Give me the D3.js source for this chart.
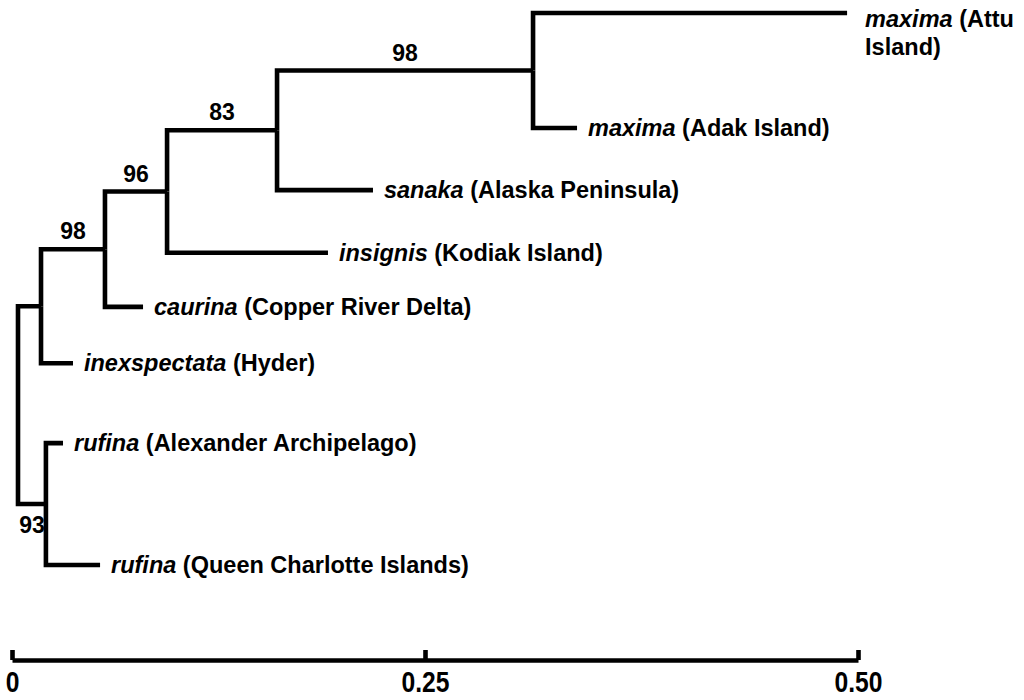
<!DOCTYPE html>
<html>
<head>
<meta charset="utf-8">
<script src="https://cdn.jsdelivr.net/npm/d3@7/dist/d3.min.js"></script>
<style>
  html, body { margin: 0; padding: 0; background: #ffffff; }
  svg { display: block; }
  text { font-family: "Liberation Sans", Arial, Helvetica, sans-serif; font-weight: bold; fill: #000; }
</style>
</head>
<body>
<svg id="chart" width="1024" height="700"></svg>
<script>
// ---- data ----
const nodeIds = ["root", "n98a", "n96", "n83", "n98b", "nMax", "nRuf",
                 "attu", "adak", "sanaka", "insignis", "caurina", "inexspectata", "rufinaA", "rufinaQ"];
const parentIds = ["", "root", "n98a", "n96", "n83", "n98b", "root",
                   "nMax", "nMax", "n98b", "n83", "n96", "n98a", "nRuf", "nRuf"];
const branchLengths = [0, 0.0136, 0.0378, 0.0367, 0.0650, 0.1513, 0.0165,
                       0.1856, 0.0260, 0.0567, 0.0951, 0.0225, 0.0189, 0.0101, 0.0320];

const leafIds = ["attu", "adak", "sanaka", "insignis", "caurina", "inexspectata", "rufinaA", "rufinaQ"];
const leafTaxa = ["maxima", "maxima", "sanaka", "insignis", "caurina", "inexspectata", "rufina", "rufina"];
const leafLocalities = ["(Attu Island)", "(Adak Island)", "(Alaska Peninsula)", "(Kodiak Island)",
                        "(Copper River Delta)", "(Hyder)", "(Alexander Archipelago)", "(Queen Charlotte Islands)"];
const leafRows = [0, 2.0, 3.08, 4.17, 5.11, 6.09, 7.48, 9.6];

const supportNodes = ["n96", "n83", "n98b", "nMax", "nRuf"];
const supportValues = [98, 96, 83, 98, 93];
const supportSide = ["above", "above", "above", "above", "below"];

const scaleTicks = [0, 0.25, 0.5];
const scaleTickLabels = ["0", "0.25", "0.50"];

// ---- build tree ----
const table = nodeIds.map((id, i) => ({ id, parent: parentIds[i] || null, len: branchLengths[i] }));
const root = d3.stratify().id(d => d.id).parentId(d => d.parent)(table);

root.each(n => { n.dist = n.parent ? n.parent.dist + n.data.len : 0; });

const x = d3.scaleLinear().domain([0, 0.5]).range([18, 864]);
const y = d3.scaleLinear().domain([0, 9.6]).range([13, 565]);

const leafIndex = new Map(leafIds.map((id, i) => [id, i]));
root.eachAfter(n => {
  if (!n.children) {
    n.py = y(leafRows[leafIndex.get(n.id)]);
  } else {
    const ys = n.children.map(c => c.py);
    n.py = (d3.min(ys) + d3.max(ys)) / 2;
  }
  n.px = x(n.dist);
});

const svg = d3.select("#chart");
const g = svg.append("g");

// links (elbow)
g.selectAll("path.link")
  .data(root.links())
  .join("path")
  .attr("class", "link")
  .attr("fill", "none")
  .attr("stroke", "#000")
  .attr("stroke-width", 4.6)
  .attr("stroke-linejoin", "miter")
  .attr("stroke-linecap", "butt")
  .attr("d", l => `M${l.source.px},${l.source.py}V${l.target.py}H${l.target.px}`);

// leaf labels
const leaves = root.leaves();
const labelSize = 23.5;
const lab = g.selectAll("text.leaf")
  .data(leaves)
  .join("text")
  .attr("class", "leaf")
  .attr("font-size", labelSize)
  .attr("x", d => d.px + 11)
  .attr("y", d => d.py)
  .attr("dy", "0.35em");

lab.each(function(d) {
  const i = leafIndex.get(d.id);
  const t = d3.select(this);
  t.append("tspan").attr("font-style", "italic").text(leafTaxa[i]);
  const loc = t.append("tspan").text(" " + leafLocalities[i]);
  const bb = this.getBBox();
  if (bb.x + bb.width > 1020) {
    const words = leafLocalities[i].split(" ");
    const last = words.pop();
    loc.text(" " + words.join(" "));
    t.attr("dy", null).attr("y", d.py + 14);
    t.append("tspan").attr("x", d.px + 18).attr("dy", 28).text(last);
    t.attr("x", d.px + 18);
  }
});

// support values
const nodeById = new Map(root.descendants().map(n => [n.id, n]));
g.selectAll("text.support")
  .data(supportNodes.map((id, i) => ({ node: nodeById.get(id), v: supportValues[i], side: supportSide[i] })))
  .join("text")
  .attr("class", "support")
  .attr("font-size", 23)
  .attr("text-anchor", "middle")
  .attr("x", d => (d.node.parent.px + d.node.px) / 2)
  .attr("y", d => d.side === "above" ? d.node.py - 10 : d.node.py + 29)
  .text(d => d.v);

// scale bar
const sx = d3.scaleLinear().domain(scaleTicks).range([12, 425, 858]);
const axis = d3.axisBottom(sx)
  .tickValues(scaleTicks)
  .tickFormat((d, i) => scaleTickLabels[i])
  .tickSizeInner(-10)
  .tickSizeOuter(0)
  .tickPadding(11);

const ax = svg.append("g").attr("transform", "translate(0,660)").call(axis);
ax.select(".domain").attr("stroke", "#000").attr("stroke-width", 4.6);
ax.selectAll(".tick line").attr("stroke", "#000").attr("stroke-width", 4.6).attr("y1", 0);
ax.selectAll(".tick text")
  .attr("fill", "#000")
  .attr("font-family", "\"Liberation Sans\", Arial, sans-serif")
  .attr("font-weight", "bold")
  .attr("font-size", 29)
  .attr("dy", "0.71em");
ax.selectAll(".tick text").each(function() {
  const t = d3.select(this);
  const yy = +t.attr("y") || 0;
  t.attr("transform", `translate(0,${yy}) scale(0.85,1) translate(0,${-yy})`);
});
</script>
</body>
</html>
